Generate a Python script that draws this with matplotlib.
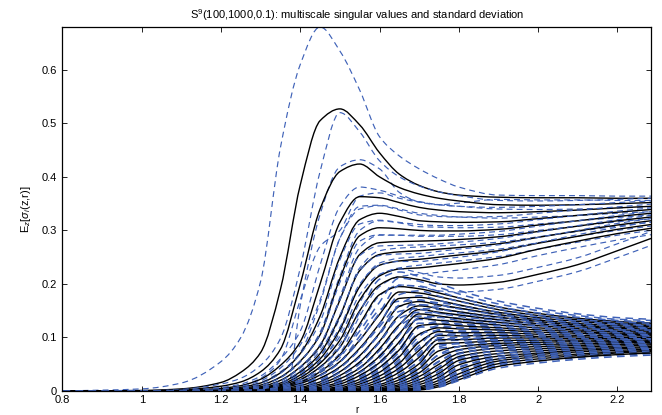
import numpy as np
import matplotlib.pyplot as plt
from matplotlib.path import Path
from matplotlib.patches import PathPatch

# --- 1. Values ---
# scale grid for the ten leading singular values
r = [0.80, 1.00, 1.10, 1.20, 1.25, 1.30, 1.35, 1.40, 1.45, 1.50, 1.55,
     1.60, 1.65, 1.70, 1.75, 1.80, 1.90, 2.00, 2.10, 2.20, 2.285]

sv1 = [0, .001, .004, .016, .035, .072, .190, .385, .505, .527, .497, .445, .405, .384, .372, .366, .362, .361, .361, .360, .360]
sd1 = [0, .003, .011, .039, .065, .133, .265, .225, .175, .108, .065, .030, .034, .031, .024, .015, .004, .004, .004, .004, .004]
sv2 = [0, 0, .002, .009, .017, .036, .078, .200, .340, .410, .424, .400, .380, .368, .360, .355, .348, .347, .348, .350, .352]
sd2 = [0, 0, .001, .004, .007, .012, .020, .030, .070, .110, .060, .030, .020, .015, .012, .010, .008, .008, .008, .008, .008]
sv3 = [0, 0, .001, .005, .010, .022, .048, .092, .200, .315, .363, .361, .352, .343, .338, .335, .333, .335, .338, .342, .345]
sd3 = [0, 0, 0, .0015, .003, .006, .012, .020, .035, .030, .018, .014, .012, .011, .010, .010, .010, .010, .010, .010, .010]
sv4 = [0, 0, .001, .003, .007, .015, .034, .070, .140, .250, .320, .332, .326, .318, .316, .315, .316, .322, .328, .334, .339]
sd4 = [0, 0, 0, .001, .002, .004, .009, .016, .030, .035, .020, .014, .012, .011, .010, .010, .010, .010, .010, .010, .010]
sv5 = [0, 0, 0, .002, .005, .011, .026, .056, .105, .210, .290, .305, .303, .300, .299, .299, .302, .310, .318, .326, .332]
sd5 = [0, 0, 0, .0007, .0015, .003, .007, .013, .024, .035, .022, .014, .012, .011, .010, .010, .010, .010, .010, .010, .010]
sv6 = [0, 0, 0, .001, .004, .008, .020, .045, .085, .170, .255, .277, .279, .280, .281, .283, .288, .298, .308, .318, .325]
sd6 = [0, 0, 0, .0004, .0012, .0025, .005, .011, .020, .033, .025, .015, .012, .011, .010, .010, .010, .010, .010, .010, .010]
sv7 = [0, 0, 0, .001, .003, .006, .015, .036, .070, .140, .225, .255, .260, .262, .265, .268, .275, .287, .299, .310, .318]
sd7 = [0, 0, 0, .0003, .001, .002, .004, .009, .017, .030, .028, .016, .012, .011, .010, .010, .010, .010, .010, .010, .010]
sv8 = [0, 0, 0, .001, .002, .005, .012, .030, .060, .115, .195, .235, .243, .246, .250, .254, .262, .276, .289, .302, .311]
sd8 = [0, 0, 0, .0003, .0007, .0015, .0035, .008, .015, .027, .030, .018, .013, .011, .011, .011, .011, .011, .011, .011, .011]
sv9 = [0, 0, 0, 0, .002, .004, .010, .025, .052, .095, .170, .215, .228, .230, .234, .238, .248, .265, .280, .294, .304]
sd9 = [0, 0, 0, 0, .0006, .0012, .003, .007, .013, .024, .030, .020, .014, .012, .012, .012, .012, .012, .012, .012, .012]
sv10 = [0, 0, 0, 0, .001, .003, .008, .021, .045, .082, .150, .198, .213, .208, .200, .198, .203, .218, .236, .262, .285]
sd10 = [0, 0, 0, 0, .0003, .001, .0025, .006, .011, .020, .030, .020, .015, .013, .013, .013, .013, .013, .013, .013, .013]

# noise singular values (dense band), on their own coarser grid
r_noise = [0.80, 1.30, 1.40, 1.45, 1.50, 1.55, 1.60, 1.65, 1.70, 1.75, 1.80, 1.90, 2.00, 2.10, 2.20, 2.285]
noise_rel_sd = [0, .20, .20, .20, .20, .18, .16, .14, .12, .10, .08, .07, .065, .06, .055, .055]

n11 = [0, .002, .017, .036, .068, .125, .180, .195, .191, .183, .174, .157, .145, .136, .130, .127]
n12 = [0, .001, .014, .030, .055, .095, .143, .185, .183, .176, .168, .152, .141, .133, .127, .125]
n13 = [0, .001, .010, .024, .045, .080, .126, .173, .175, .169, .161, .147, .137, .130, .125, .122]
n14 = [0, 0, .007, .017, .036, .066, .108, .158, .167, .161, .155, .143, .133, .126, .122, .120]
n15 = [0, 0, .005, .013, .029, .054, .093, .141, .159, .154, .148, .138, .130, .123, .119, .117]
n16 = [0, 0, .003, .010, .023, .043, .079, .124, .152, .147, .142, .133, .126, .120, .117, .115]
n17 = [0, 0, .002, .007, .017, .036, .065, .107, .144, .140, .135, .128, .122, .117, .114, .112]
n18 = [0, 0, .001, .005, .013, .029, .053, .092, .136, .132, .129, .123, .118, .114, .111, .110]
n19 = [0, 0, .001, .003, .009, .022, .044, .077, .122, .125, .122, .118, .114, .111, .108, .108]
n20 = [0, 0, 0, .002, .006, .017, .035, .064, .106, .118, .116, .114, .110, .108, .106, .105]
n21 = [0, 0, 0, .001, .004, .013, .028, .052, .091, .111, .109, .109, .106, .104, .103, .103]
n22 = [0, 0, 0, .001, .003, .009, .022, .043, .076, .104, .103, .104, .102, .101, .100, .100]
n23 = [0, 0, 0, 0, .002, .006, .017, .035, .063, .096, .096, .099, .099, .098, .098, .098]
n24 = [0, 0, 0, 0, .001, .004, .012, .027, .051, .089, .090, .094, .095, .095, .095, .095]
n25 = [0, 0, 0, 0, .001, .003, .009, .021, .042, .075, .083, .089, .091, .092, .092, .093]
n26 = [0, 0, 0, 0, 0, .002, .006, .016, .034, .062, .077, .085, .087, .088, .090, .091]
n27 = [0, 0, 0, 0, 0, .001, .004, .012, .027, .050, .070, .080, .083, .085, .087, .088]
n28 = [0, 0, 0, 0, 0, 0, .003, .009, .021, .041, .064, .075, .079, .082, .084, .086]
n29 = [0, 0, 0, 0, 0, 0, .002, .006, .016, .033, .057, .070, .075, .079, .081, .083]
n30 = [0, 0, 0, 0, 0, 0, .001, .004, .012, .026, .049, .065, .071, .076, .079, .081]
n31 = [0, 0, 0, 0, 0, 0, 0, .002, .008, .020, .040, .060, .068, .073, .076, .078]
n32 = [0, 0, 0, 0, 0, 0, 0, .002, .006, .015, .032, .056, .064, .069, .073, .076]
n33 = [0, 0, 0, 0, 0, 0, 0, .001, .004, .011, .026, .051, .060, .066, .071, .074]
n34 = [0, 0, 0, 0, 0, 0, 0, .001, .002, .008, .021, .046, .056, .063, .068, .071]

x_ticks = [0.8, 1.0, 1.2, 1.4, 1.6, 1.8, 2.0, 2.2]
x_tick_labels = ['0.8', '1', '1.2', '1.4', '1.6', '1.8', '2', '2.2']
y_ticks = [0, 0.1, 0.2, 0.3, 0.4, 0.5, 0.6]
y_tick_labels = ['0', '0.1', '0.2', '0.3', '0.4', '0.5', '0.6']

# --- 2. Style ---
plt.rcParams['font.family'] = ['Liberation Sans', 'DejaVu Sans']
plt.rcParams['mathtext.fontset'] = 'custom'
plt.rcParams['mathtext.rm'] = 'Liberation Sans'
plt.rcParams['mathtext.it'] = 'Liberation Sans:italic'

BLUE = '#3f62b8'
DASH = (5, 3.5)

fig = plt.figure(figsize=(6.62, 4.15), dpi=100)
ax = fig.add_axes([0.0944, 0.0578, 0.8890, 0.8772])


def smooth_path(x, y):
    # cubic Hermite (pchip slopes) through the read points, drawn as bezier segments
    h = np.diff(x)
    d = np.diff(y) / h
    m = np.zeros_like(y)
    m[0], m[-1] = d[0], d[-1]
    for k in range(1, len(y) - 1):
        if d[k - 1] * d[k] > 0:
            w1 = 2 * h[k] + h[k - 1]
            w2 = h[k] + 2 * h[k - 1]
            m[k] = (w1 + w2) / (w1 / d[k - 1] + w2 / d[k])
    verts = [(x[0], y[0])]
    codes = [Path.MOVETO]
    for k in range(len(h)):
        t = h[k] / 3
        verts += [(x[k] + t, y[k] + m[k] * t),
                  (x[k + 1] - t, y[k + 1] - m[k + 1] * t),
                  (x[k + 1], y[k + 1])]
        codes += [Path.CURVE4] * 3
    return Path(verts, codes)


def draw(x, mean, sd, lw_solid, lw_dash):
    x = np.asarray(x, dtype=float)
    m = np.asarray(mean, dtype=float)
    s = np.asarray(sd, dtype=float)
    ax.add_patch(PathPatch(smooth_path(x, m), fill=False, edgecolor='black', lw=lw_solid))
    for yy in (m + s, m - s):
        ax.add_patch(PathPatch(smooth_path(x, yy), fill=False, edgecolor=BLUE,
                               lw=lw_dash, linestyle=(0, DASH)))


# --- 3. Plot ---
tops = [(sv1, sd1), (sv2, sd2), (sv3, sd3), (sv4, sd4), (sv5, sd5),
        (sv6, sd6), (sv7, sd7), (sv8, sd8), (sv9, sd9), (sv10, sd10)]
for mean, sd in tops:
    draw(r, mean, sd, 1.0, 0.85)

noise = [n11, n12, n13, n14, n15, n16, n17, n18, n19, n20, n21, n22,
         n23, n24, n25, n26, n27, n28, n29, n30, n31, n32, n33, n34]
for row in noise:
    draw(r_noise, row, np.asarray(row) * np.asarray(noise_rel_sd), 1.0, 1.1)

ax.set_xlim(0.8, 2.285)
ax.set_ylim(0, 0.68)
ax.set_xticks(x_ticks)
ax.set_xticklabels(x_tick_labels)
ax.set_yticks(y_ticks)
ax.set_yticklabels(y_tick_labels)
ax.tick_params(direction='in', top=True, right=True, length=3.5, width=0.6,
               labelsize=8)
ax.tick_params(axis='x', pad=3)
ax.tick_params(axis='y', pad=4)
for sp in ax.spines.values():
    sp.set_linewidth(0.9)

ax.set_xlabel('r', fontsize=7, labelpad=0)
ax.set_ylabel(r'E$_z[\sigma_i$(z,r)]', fontsize=8, labelpad=6)
ax.set_title(r'S$^9$(100,1000,0.1): multiscale singular values and standard deviation',
             fontsize=8, pad=6)

fig.savefig('out.png', dpi=100)
